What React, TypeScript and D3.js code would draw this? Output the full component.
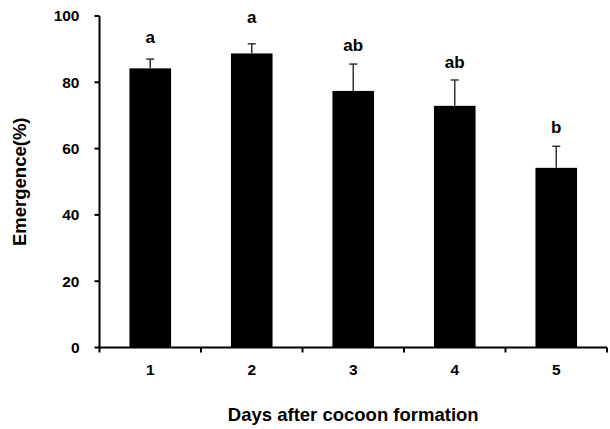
import React from 'react';
import * as d3 from 'd3';

// emergence by day after cocoon formation (mean ± SE)
const days = ['1', '2', '3', '4', '5'];
const emergence = [84.2, 88.7, 77.4, 72.9, 54.2];
const stdErr = [2.8, 2.9, 8.1, 7.8, 6.5];
const letters = ['a', 'a', 'ab', 'ab', 'b'];
const letterAt = [93.7, 99.6, 91.2, 86.2, 66.6];
const yTicks = [0, 20, 40, 60, 80, 100];

const width = 610;
const height = 429;
const margin = { top: 16, right: 3, bottom: 82, left: 99.5 };

const font = '"Liberation Sans", Arial, sans-serif';

const App = () => {
  const xScale = d3.scaleBand<string>()
    .domain(days)
    .range([margin.left, width - margin.right])
    .paddingInner(0.59)
    .paddingOuter(0.295);

  const yScale = d3.scaleLinear()
    .domain([0, 100])
    .range([height - margin.bottom + 0.5, margin.top]);

  const step = xScale.step();
  const x0 = xScale.range()[0];
  const y0 = yScale(0);
  const xEnd = x0 + step * days.length;
  const boundaries = d3.range(days.length + 1).map(i => x0 + i * step);

  return (
    <div style={{ position: 'absolute', left: 0, top: 0 }}>
      <svg width={width} height={height} viewBox={`0 0 ${width} ${height}`} style={{ display: 'block', background: '#fff' }}>
        {/* bars */}
        <g fill="#000">
          {days.map((d, i) => (
            <rect
              key={d}
              x={xScale(d)}
              y={yScale(emergence[i])}
              width={xScale.bandwidth()}
              height={y0 - yScale(emergence[i])}
            />
          ))}
        </g>

        {/* error bars, upper only */}
        <g stroke="#333" strokeWidth={1.5}>
          {days.map((d, i) => {
            const cx = (xScale(d) ?? 0) + xScale.bandwidth() / 2;
            const top = yScale(emergence[i] + stdErr[i]);
            return (
              <g key={d}>
                <line x1={cx} x2={cx} y1={yScale(emergence[i])} y2={top} />
                <line x1={cx - 4} x2={cx + 4} y1={top} y2={top} />
              </g>
            );
          })}
        </g>

        {/* significance letters */}
        <g fontFamily={font} fontWeight="bold" fontSize={17} textAnchor="middle">
          {days.map((d, i) => (
            <text key={d} x={(xScale(d) ?? 0) + xScale.bandwidth() / 2} y={yScale(letterAt[i])} dy="0.35em">
              {letters[i]}
            </text>
          ))}
        </g>

        {/* y axis */}
        <g stroke="#000" strokeWidth={2}>
          <line x1={x0} x2={x0} y1={yScale(100)} y2={y0} />
          {yTicks.map(t => (
            <line key={t} x1={x0 - 5} x2={x0} y1={yScale(t)} y2={yScale(t)} />
          ))}
        </g>
        <g fontFamily={font} fontWeight="bold" fontSize={15.5} textAnchor="end">
          {yTicks.map(t => (
            <text key={t} x={x0 - 20} y={yScale(t)} dy="0.35em">{t}</text>
          ))}
        </g>

        {/* x axis */}
        <g stroke="#000" strokeWidth={2}>
          <line x1={x0 - 1} x2={xEnd} y1={y0} y2={y0} />
          {boundaries.map((b, i) => (
            <line key={i} x1={b} x2={b} y1={y0} y2={y0 + 5} />
          ))}
        </g>
        <g fontFamily={font} fontWeight="bold" fontSize={15.5} textAnchor="middle">
          {days.map(d => (
            <text key={d} x={(xScale(d) ?? 0) + xScale.bandwidth() / 2} y={370} dy="0.35em">{d}</text>
          ))}
        </g>

        {/* axis titles */}
        <text
          x={(x0 + xEnd) / 2}
          y={415}
          dy="0.35em"
          textAnchor="middle"
          fontFamily={font}
          fontWeight="bold"
          fontSize={18.5}
        >
          Days after cocoon formation
        </text>
        <text
          transform={`translate(20, ${(yScale(100) + y0) / 2}) rotate(-90)`}
          dy="0.35em"
          textAnchor="middle"
          fontFamily={font}
          fontWeight="bold"
          fontSize={18.5}
        >
          Emergence(%)
        </text>
      </svg>
    </div>
  );
};

export default App;
